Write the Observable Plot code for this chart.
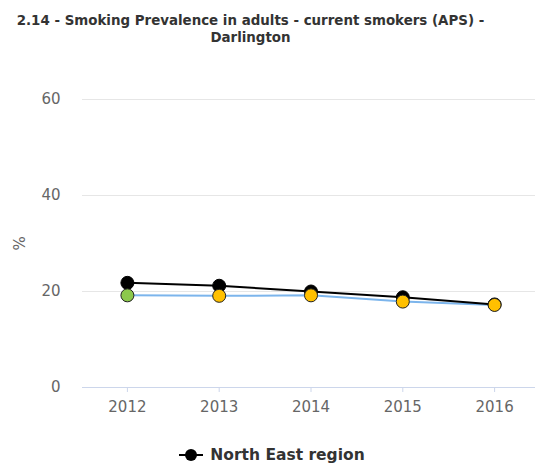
<!DOCTYPE html>
<html>
<head>
<meta charset="utf-8">
<script src="https://cdn.jsdelivr.net/npm/d3@7"></script>
<script src="https://cdn.jsdelivr.net/npm/@observablehq/plot@0.6"></script>
<style>
  html, body { margin: 0; padding: 0; background: #fff; }
  body { width: 535px; height: 465px; overflow: hidden; font-family: "DejaVu Sans", sans-serif; }
  #title { height: 50px; box-sizing: border-box; padding-top: 12px; padding-right: 34px; text-align: center;
           font-weight: bold; font-size: 13.4px; line-height: 17px; color: #333; }
  #legend { height: 35px; display: flex; align-items: center; justify-content: center;
            padding-left: 8px; padding-top: 14px; box-sizing: border-box; }
  #legend span { font-weight: bold; font-size: 15.5px; color: #333; margin-left: 6px; }
</style>
</head>
<body>
<div id="title">2.14 - Smoking Prevalence in adults - current smokers (APS) -<br>Darlington</div>
<div id="chart"></div>
<div id="legend">
  <svg width="26" height="16"><line x1="1" x2="25" y1="8" y2="8" stroke="#000" stroke-width="2"></line><circle cx="13" cy="8" r="6" fill="#000"></circle></svg>
  <span>North East region</span>
</div>
<script>
// Smoking prevalence (%) by year
const years = [2012, 2013, 2014, 2015, 2016];
const northEast = [21.8, 21.2, 20.0, 18.8, 17.3];
const darlington = [19.2, 19.1, 19.2, 17.9, 17.2];
// Darlington compared with the England benchmark
const comparison = ["Better", "Similar", "Similar", "Similar", "Similar"];
const yTicks = [0, 20, 40, 60];

const ne = years.map((year, i) => ({year, value: northEast[i]}));
const dar = years.map((year, i) => ({year, value: darlington[i], comparison: comparison[i]}));

const chart = Plot.plot({
  width: 535,
  height: 380,
  marginLeft: 82,
  marginRight: 0,
  marginTop: 49,
  marginBottom: 43,
  style: {fontFamily: "DejaVu Sans, sans-serif", fontSize: "15px", color: "#666", background: "#fff"},
  x: {type: "linear", domain: [2011.5, 2016.5], range: [81, 540]},
  y: {domain: [0, 60]},
  color: {domain: ["Better", "Similar"], range: ["#8cc84b", "#ffc000"]},
  marks: [
    Plot.ruleY(yTicks.filter(t => t > 0), {stroke: "#e6e6e6", strokeWidth: 1}),
    Plot.ruleY([0], {stroke: "#ccd6eb", strokeWidth: 1}),
    Plot.axisX(years, {tickFormat: d => String(d), tickSize: 5, stroke: "#ccd6eb", tickPadding: 9, fill: "#666", label: null}),
    Plot.axisY(yTicks, {tickSize: 0, tickPadding: 22, fill: "#666", label: null}),
    Plot.text(["%"], {frameAnchor: "left", dx: -62, dy: 7, rotate: -90, fill: "#666", fontSize: 15}),
    Plot.line(dar, {x: "year", y: "value", stroke: "#7cb5ec", strokeWidth: 2}),
    Plot.line(ne, {x: "year", y: "value", stroke: "#000", strokeWidth: 2}),
    Plot.dot(ne, {x: "year", y: "value", r: 6.5, fill: "#000", stroke: "#000", strokeWidth: 1}),
    Plot.dot(dar, {x: "year", y: "value", r: 6.5, fill: "comparison", stroke: "#222", strokeWidth: 1})
  ]
});
document.getElementById("chart").appendChild(chart);
</script>
</body>
</html>
